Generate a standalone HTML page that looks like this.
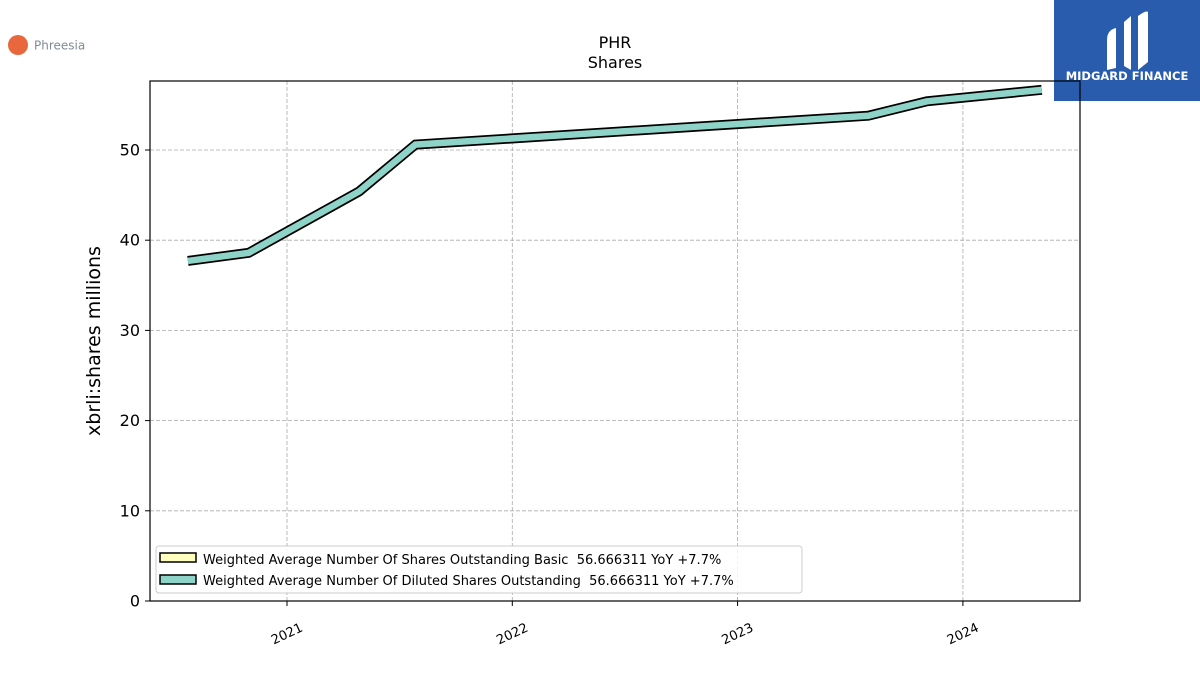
<!DOCTYPE html>
<html><head><meta charset="utf-8"><style>
body{margin:0;background:#fff;width:1200px;height:675px;overflow:hidden;font-family:"Liberation Sans","DejaVu Sans",sans-serif}
text{white-space:pre}
</style></head><body>
<svg width="1200" height="675" viewBox="0 0 1200 675" font-family="DejaVu Sans, Liberation Sans, sans-serif">
<g><circle cx="18" cy="45" r="10" fill="#e8673c"/><text x="34" y="49.5" font-size="12" fill="#7f8c95">Phreesia</text></g>
<g><rect x="1054" y="0" width="146" height="101" fill="#2a5cad"/>
<path d="M1107 40 Q1107 30 1116 28 L1116 68 L1107 70 Z M1124 22 L1131 16 L1131 70 L1124 66 Z M1138 16 Q1146 10 1148 12 L1148 62 L1138 70 Z" fill="#fff"/>
<text x="1127" y="80" font-size="11.5" font-weight="bold" fill="#fff" text-anchor="middle">MIDGARD FINANCE</text></g>
<text x="615" y="48" font-size="16" text-anchor="middle">PHR</text>
<text x="615" y="68" font-size="16" text-anchor="middle">Shares</text>
<g id="grid"></g><g id="axes"></g><g id="series"></g>
<rect x="150" y="81" width="930" height="520" fill="none" stroke="#000" stroke-width="1.2"/>
<text transform="translate(100,341) rotate(-90)" font-size="19" text-anchor="middle">xbrli:shares millions</text>
<g>
<rect x="156" y="546" width="646" height="47" rx="3" fill="#fff" fill-opacity="0.85" stroke="#ccc"/>
<g><rect x="160" y="553" width="36" height="9" fill="#ffffc0" stroke="#000" stroke-width="1.5"/><text x="203" y="564" font-size="13" xml:space="preserve">Weighted Average Number Of Shares Outstanding Basic  56.666311 YoY +7.7%</text></g>
<g><rect x="160" y="575" width="36" height="9" fill="#8dd3c7" stroke="#000" stroke-width="1.5"/><text x="203" y="585" font-size="13" xml:space="preserve">Weighted Average Number Of Diluted Shares Outstanding  56.666311 YoY +7.7%</text></g>
</g>
</svg>
<script>
const dates=[2020.56,2020.83,2021.32,2021.57,2023.58,2023.84,2024.35];
const dilutedValues=[37.7,38.6,45.4,50.6,53.8,55.4,56.67];
const yTicks=[0,10,20,30,40,50];
const xTicks=[2021,2022,2023,2024];
const NS="http://www.w3.org/2000/svg";
const xs=d=>287+(d-2021)*225.3;
const ys=v=>601-v*9.02;
function mk(t,a,p){const e=document.createElementNS(NS,t);for(const k in a)e.setAttribute(k,a[k]);p.appendChild(e);return e;}
const grid=document.getElementById('grid'),axes=document.getElementById('axes'),ser=document.getElementById('series');
yTicks.forEach(v=>{const y=ys(v);
 if(v>0){const l=mk('line',{x1:150,x2:1080,y1:y,y2:y,stroke:'#aaa','stroke-dasharray':'4,2','stroke-width':0.8},grid);
 
 }
 mk('line',{x1:145,x2:150,y1:y,y2:y,stroke:'#000'},axes);
 const t=mk('text',{x:140,y:y+5.5,'font-size':16,'text-anchor':'end'},axes);t.textContent=v;
 
 });
xTicks.forEach(d=>{const x=xs(d);
 const l=mk('line',{x1:x,x2:x,y1:81,y2:601,stroke:'#aaa','stroke-dasharray':'4,2','stroke-width':0.8},grid);
 
 
 mk('line',{x1:x,x2:x,y1:601,y2:606,stroke:'#000'},axes);
 const t=mk('text',{x:x,y:638,'font-size':13,'text-anchor':'middle',transform:`rotate(-25 ${x} 634)`},axes);t.textContent=d;
 
 });
const pts=dates.map((d,i)=>xs(d)+','+ys(dilutedValues[i])).join(' ');
const o=mk('polyline',{points:pts,fill:'none',stroke:'#000','stroke-width':10,'stroke-linejoin':'miter'},ser);


const s=mk('polyline',{points:pts,fill:'none',stroke:'#8dd3c7','stroke-width':6.5,'stroke-linejoin':'miter'},ser);


</script>
</body></html>
